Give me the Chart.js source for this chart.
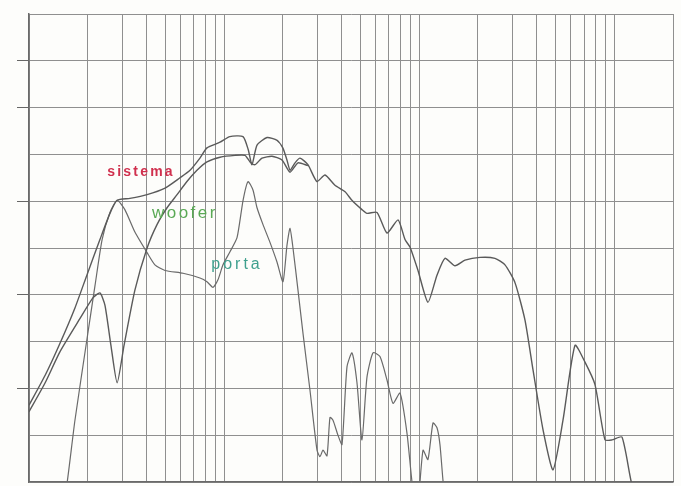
<!DOCTYPE html>
<html>
<head>
<meta charset="utf-8">
<script src="https://cdn.jsdelivr.net/npm/chart.js@4.4.1/dist/chart.umd.min.js"></script>
<style>
  html, body { margin: 0; padding: 0; background: #fdfdfb; }
  #wrap { width: 681px; height: 486px; }
  canvas { filter: blur(0.5px); }
</style>
</head>
<body>
<div id="wrap"><canvas id="risposta" width="681" height="486"></canvas></div>
<script>
// Risposta in frequenza: sistema, woofer (campo vicino), porta (campo vicino)
// Frequenze in Hz, livelli in dB

const sistemaFreq = [10, 12.1, 14.4, 17.2, 19.8, 23.1, 26.0, 28.3, 32.9, 40.3, 49.8, 59.4, 66.9, 75.2, 81.7, 95.3,
  107, 125, 133, 139, 147.5, 166, 187, 200, 210, 218, 231, 245, 269, 299, 329, 370, 417, 452, 509, 540, 608,
  684, 779, 846, 897, 986, 1109, 1234, 1356, 1526, 1717, 2050, 2446, 2753, 3097, 3486, 3831, 4312, 4852,
  5459, 6291, 7078, 7964, 8961, 9732, 10950, 12320, 13540];
const sistemaDb = [48.2, 51.4, 54.8, 58.6, 62.1, 65.9, 68.7, 70.1, 70.3, 70.7, 71.4, 72.5, 73.3, 74.6, 75.7, 76.3,
  76.9, 76.9, 75.5, 73.9, 76.0, 76.8, 76.5, 75.7, 74.4, 73.3, 74.1, 74.6, 73.9, 72.1, 72.8, 71.7, 71.0, 70.1, 69.1, 68.7, 68.8,
  66.6, 68.0, 65.9, 65.1, 62.6, 59.2, 62.1, 63.9, 63.1, 63.7, 64.0, 63.9, 63.2, 61.3, 57.3, 52.0, 45.6, 41.3,
  46.6, 54.6, 52.8, 50.4, 44.5, 44.5, 44.8, 39.7, 38.0];

const wooferFreq = [10, 12.1, 14.4, 18.3, 21.3, 23.1, 24.5, 26.3, 28.3, 30.7, 34.9, 40.3, 45.3, 51.0, 57.4, 64.5,
  72.6, 81.7, 95.3, 113.7, 128, 135.8, 144, 156.4, 176, 198.1, 217.7, 239.2, 269];
const wooferDb = [47.5, 50.6, 53.9, 57.5, 59.7, 60.2, 58.9, 54.6, 50.6, 54.6, 60.5, 65.0, 67.5, 69.3, 70.7, 72.1,
  73.3, 74.2, 74.7, 74.9, 74.9, 74.2, 73.9, 74.6, 74.8, 74.4, 73.1, 74.1, 73.8];

const portaFreq = [14.8, 15.7, 17.2, 19.8, 21.8, 23.7, 26.0, 28.3, 31.0, 34.9, 40.3, 44.2, 49.8, 61.6, 75.2, 81.7,
  87.7, 93.0, 98.7, 107.2, 116.5, 125.1, 132.6, 140.6, 147.5, 158.3, 171.9, 186.7, 200.4, 210.1, 217.7, 225.5,
  239.2, 253.7, 275.6, 299.4, 310.2, 321.4, 336.9, 349, 361.6, 383.5, 402.2, 426.5, 452.4, 479.9, 509.1, 540,
  579.8, 629.6, 683.9, 734.2, 797.3, 866.1, 918.7, 974, 1046, 1109, 1177, 1234, 1278, 1324, 1372];
const portaDb = [37.0, 40.0, 46.6, 55.2, 61.0, 65.9, 68.8, 70.1, 69.1, 66.7, 64.5, 63.2, 62.6, 62.3, 61.8, 61.4,
  60.8, 61.6, 63.2, 64.6, 66.1, 70.1, 72.1, 71.2, 69.3, 67.5, 65.6, 63.5, 61.4, 65.3, 67.1, 65.0,
  60.5, 55.9, 49.8, 43.4, 42.7, 43.4, 42.8, 46.9, 46.6, 45.0, 44.0, 52.3, 53.8, 50.6, 44.5, 51.2,
  53.8, 53.4, 50.9, 48.4, 49.5, 45.2, 40.0, 36.5, 43.4, 42.4, 46.3, 45.8, 44.0, 40.2, 37.5];

// Griglia logaritmica 10 Hz - 20 kHz
const freqGriglia = [10, 20, 30, 40, 50, 60, 70, 80, 90,
  100, 200, 300, 400, 500, 600, 700, 800, 900,
  1000, 2000, 3000, 4000, 5000, 6000, 7000, 8000, 9000,
  10000, 20000];
const dbTacche = [50, 60, 70, 80, 85];

// Etichette delle curve
const etichetteTesto = ['sistema', 'woofer', 'porta'];
const etichetteFreq = [37.5, 63, 116.5];
const etichetteDb = [73.1, 68.7, 63.2];
const etichetteColori = ['#d0304e', '#5aa955', '#3fa08e'];
const etichetteFont = ['bold 14px "Liberation Sans", Arial, sans-serif', '17px "Liberation Sans", Arial, sans-serif', '16px "Liberation Sans", Arial, sans-serif'];
const etichetteSpazio = ['2.2px', '2.5px', '3px'];

const punti = (freq, db) => freq.map((f, i) => ({ x: f, y: db[i] }));

const sfondo = {
  id: 'sfondo',
  beforeDraw(chart) {
    const ctx = chart.ctx;
    ctx.save();
    ctx.fillStyle = '#fdfdfb';
    ctx.fillRect(0, 0, chart.width, chart.height);
    ctx.restore();
  }
};

const etichette = {
  id: 'etichette',
  afterDatasetsDraw(chart) {
    const { ctx, scales: { x, y } } = chart;
    ctx.save();
    ctx.textAlign = 'center';
    ctx.textBaseline = 'middle';
    etichetteTesto.forEach((testo, i) => {
      ctx.font = etichetteFont[i];
      ctx.letterSpacing = etichetteSpazio[i];
      ctx.fillStyle = etichetteColori[i];
      ctx.fillText(testo, x.getPixelForValue(etichetteFreq[i]), y.getPixelForValue(etichetteDb[i]));
    });
    ctx.restore();
  }
};

const stileCurva = {
  borderColor: '#5a5a5a',
  borderWidth: 1.4,
  pointRadius: 0,
  tension: 0.2,
  fill: false
};

new Chart(document.getElementById('risposta'), {
  type: 'line',
  data: {
    datasets: [
      { label: 'sistema', data: punti(sistemaFreq, sistemaDb), ...stileCurva },
      { label: 'woofer', data: punti(wooferFreq, wooferDb), ...stileCurva },
      { label: 'porta', data: punti(portaFreq, portaDb), ...stileCurva, borderWidth: 1.2, borderColor: '#6a6a6a' }
    ]
  },
  options: {
    responsive: false,
    animation: false,
    layout: { padding: { left: 17, right: 8, top: 14, bottom: 4 } },
    plugins: {
      legend: { display: false },
      tooltip: { enabled: false }
    },
    scales: {
      x: {
        type: 'logarithmic',
        min: 10,
        max: 20000,
        afterBuildTicks: (scala) => {
          scala.ticks = freqGriglia.map(v => ({ value: v }));
        },
        ticks: { display: false },
        grid: { color: '#8f8f8f', lineWidth: 1, drawTicks: false },
        border: { color: '#6a6a6a', width: 1.5 }
      },
      y: {
        min: 40,
        max: 90,
        ticks: { display: false, stepSize: 5 },
        grid: {
          color: '#8f8f8f',
          lineWidth: 1,
          drawTicks: true,
          tickLength: 12,
          tickColor: (c) => dbTacche.includes(c.tick && c.tick.value) ? '#666' : 'rgba(0,0,0,0)'
        },
        border: { color: '#6a6a6a', width: 1.5 }
      }
    }
  },
  plugins: [sfondo, etichette]
});
</script>
</body>
</html>
